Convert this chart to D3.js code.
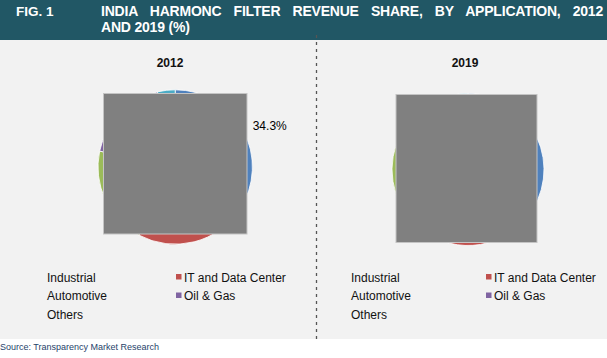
<!DOCTYPE html>
<html lang="en">
<head>
<meta charset="UTF-8">
<script src="https://d3js.org/d3.v7.min.js"></script>
<style>
body { margin: 0; background: #fff; }
svg { display: block; font-family: "Liberation Sans", Arial, sans-serif; }
</style>
</head>
<body>
<div class="canva"></div>
<script>
// data
const categories = ["Industrial", "IT and Data Center", "Automotive", "Oil & Gas", "Others"];
const colors = ["#4f81bd", "#c0504d", "#9bbb59", "#8064a2", "#4bacc6"];
const years = ["2012", "2019"];
const values2012 = [34.3, 23.5, 20.5, 18.0, 3.7];
const values2019 = [36.0, 26.0, 21.0, 13.0, 4.0];
// markers shown in the legend (others have none in the original)
const showMarker = [false, true, false, true, false];

const width = 607, height = 358;
const svg = d3.select(".canva").append("svg")
  .attr("width", width)
  .attr("height", height);

// panel background
svg.append("rect").attr("x", 0).attr("y", 40).attr("width", width).attr("height", 299)
  .attr("fill", "#f2f2f2");

// header bar
svg.append("rect").attr("x", 0).attr("y", 0).attr("width", width).attr("height", 40)
  .attr("fill", "#215765");
svg.append("text").attr("x", 16).attr("y", 15.5)
  .attr("fill", "#fff").attr("font-weight", "bold").attr("font-size", 13.5)
  .text("FIG. 1");
const titleLine = "INDIA HARMONC FILTER REVENUE SHARE, BY APPLICATION, 2012";
const title1 = svg.append("text").attr("x", 101).attr("y", 15.5)
  .attr("fill", "#fff").attr("font-weight", "bold").attr("font-size", 14)
  .attr("letter-spacing", -0.2)
  .text(titleLine);
// justify first line by widening the word gaps
const natural = title1.node().getComputedTextLength();
const gaps = titleLine.split(" ").length - 1;
title1.attr("word-spacing", (502 - natural) / gaps);
svg.append("text").attr("x", 101).attr("y", 32)
  .attr("fill", "#fff").attr("font-weight", "bold").attr("font-size", 14)
  .attr("letter-spacing", -0.2)
  .text("AND 2019 (%)");

// dashed divider
svg.append("line").attr("x1", 316.5).attr("x2", 316.5).attr("y1", 35).attr("y2", 339)
  .attr("stroke", "#555").attr("stroke-width", 1.3).attr("stroke-dasharray", "3,4");

// source
svg.append("text").attr("x", 0).attr("y", 350)
  .attr("fill", "#1f3f6a").attr("font-size", 9)
  .text("Source: Transparency Market Research");

const pie = d3.pie().sort(null);
const panels = [
  { year: years[0], values: values2012, cx: 175.2, cy: 167, r: 77.2, titleX: 170,
    cover: [103.5, 93.5, 143.5, 140.5], legendX: 47, legendX2: 176, showLabel: true },
  { year: years[1], values: values2019, cx: 468, cy: 169.5, r: 76, titleX: 465,
    cover: [396, 94.5, 141, 148], legendX: 351, legendX2: 486, showLabel: false }
];

panels.forEach(p => {
  const g = svg.append("g").attr("transform", `translate(${p.cx},${p.cy})`);
  const arcs = pie(p.values);
  const arc = d3.arc().innerRadius(0).outerRadius(p.r);
  const labelArc = d3.arc().innerRadius(88).outerRadius(88);

  g.selectAll("path").data(arcs).enter().append("path")
    .attr("d", arc)
    .attr("fill", (d, i) => colors[i])
    .attr("stroke", "#fff").attr("stroke-width", 0.8);

  if (p.showLabel) {
    const c = labelArc.centroid(arcs[0]);
    g.append("text")
      .attr("x", c[0]).attr("y", c[1])
      .attr("dy", "0.35em")
      .attr("font-size", 12).attr("fill", "#000")
      .text(d3.format(".1f")(p.values[0]) + "%");
  }

  // grey cover box
  svg.append("rect")
    .attr("x", p.cover[0]).attr("y", p.cover[1])
    .attr("width", p.cover[2]).attr("height", p.cover[3])
    .attr("fill", "#808080").attr("stroke", "#c4c4c4").attr("stroke-width", 1);

  svg.append("text").attr("x", p.titleX).attr("y", 66.5)
    .attr("text-anchor", "middle").attr("font-weight", "bold").attr("font-size", 12)
    .attr("fill", "#111").text(p.year);

  // legend: left column Industrial/Automotive/Others, right column IT/Oil
  categories.forEach((name, i) => {
    const col = i % 2;
    const row = Math.floor(i / 2);
    const y = 281.5 + row * 18.5;
    const x = col === 0 ? p.legendX : p.legendX2;
    if (showMarker[i]) {
      svg.append("rect").attr("x", x).attr("y", y - 7.5).attr("width", 5.5).attr("height", 5.5)
        .attr("fill", colors[i]);
    }
    svg.append("text").attr("x", col === 0 ? x : x + 8).attr("y", y)
      .attr("font-size", 12).attr("fill", "#111").text(name);
  });
});
</script>
</body>
</html>
